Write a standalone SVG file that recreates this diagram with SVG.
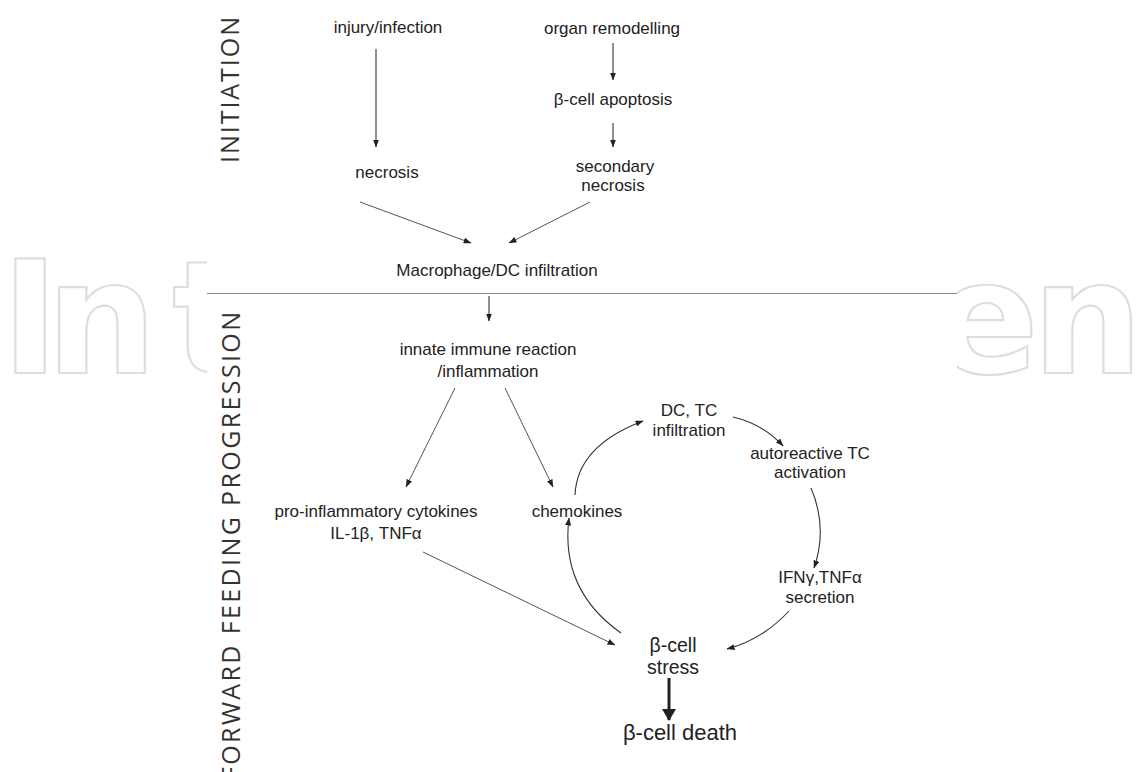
<svg xmlns="http://www.w3.org/2000/svg" width="1140" height="772" viewBox="0 0 1140 772">
<defs>
<style>
.lbl{font-family:"Liberation Sans",Arial,sans-serif;font-size:17px;fill:#222;text-anchor:middle}
.big{font-family:"Liberation Sans",Arial,sans-serif;font-size:19.5px;fill:#222;text-anchor:middle}
.bigger{font-family:"Liberation Sans",Arial,sans-serif;font-size:22px;fill:#222;text-anchor:middle}
.side{font-family:"Open Sans","DejaVu Sans",sans-serif;font-size:25px;fill:#333}
.wm{font-family:"DejaVu Sans",sans-serif;font-weight:bold;font-size:156px;fill:none;stroke:#dedede;stroke-width:2.2}
.c{fill:none;stroke:#333;stroke-width:1.1;marker-end:url(#ah)}
.cl{fill:none;stroke:#555;stroke-width:1;marker-end:url(#ah)}
</style>
<marker id="ah" viewBox="0 0 8 6" refX="7.5" refY="3" markerWidth="8" markerHeight="6" markerUnits="userSpaceOnUse" orient="auto">
<path d="M0,0 L8,3 L0,6 Z" fill="#222"/>
</marker>
<marker id="bigah" viewBox="0 0 12 14" refX="11" refY="7" markerWidth="12" markerHeight="14" markerUnits="userSpaceOnUse" orient="auto">
<path d="M0,0 L12,7 L0,14 Z" fill="#222"/>
</marker>
<clipPath id="wmL"><rect x="0" y="0" width="207" height="772"/></clipPath>
<clipPath id="wmR"><rect x="957" y="0" width="183" height="772"/></clipPath>
</defs>
<rect width="1140" height="772" fill="#fff"/>
<g id="watermark">
<text class="wm" clip-path="url(#wmL)" x="1 46 172" y="373">Int</text>
<text class="wm" clip-path="url(#wmR)" x="933 1032" y="373">en</text>
</g>

<g id="side-labels">
<text class="side" transform="translate(239,163) rotate(-90)" textLength="146" lengthAdjust="spacing">INITIATION</text>
<text class="side" transform="translate(240,780) rotate(-90)" textLength="468" lengthAdjust="spacing">FORWARD FEEDING PROGRESSION</text>
</g>

<line id="separator" x1="207" y1="293.5" x2="957" y2="293.5" stroke="#8a8a8a" stroke-width="1.2"/>

<g id="n-injury"><text class="lbl" x="388" y="33">injury/infection</text></g>
<g id="n-organ"><text class="lbl" x="612" y="34">organ remodelling</text></g>
<g id="n-apoptosis"><text class="lbl" x="613" y="105">β-cell apoptosis</text></g>
<g id="n-necrosis"><text class="lbl" x="387" y="178">necrosis</text></g>
<g id="n-secnecrosis"><text class="lbl" x="615" y="172">secondary</text><text class="lbl" x="613" y="191">necrosis</text></g>
<g id="n-macrophage"><text class="lbl" x="497" y="276">Macrophage/DC infiltration</text></g>
<g id="n-innate"><text class="lbl" x="488" y="355">innate immune reaction</text><text class="lbl" x="488" y="377">/inflammation</text></g>
<g id="n-cytokines"><text class="lbl" x="376" y="517">pro-inflammatory cytokines</text><text class="lbl" x="376" y="539">IL-1β, TNFα</text></g>
<g id="n-chemokines"><text class="lbl" x="577" y="517">chemokines</text></g>
<g id="n-dctc"><text class="lbl" x="689" y="416">DC, TC</text><text class="lbl" x="689" y="436">infiltration</text></g>
<g id="n-autoreactive"><text class="lbl" x="810" y="459">autoreactive TC</text><text class="lbl" x="810" y="478">activation</text></g>
<g id="n-ifn"><text class="lbl" x="820" y="583">IFNγ,TNFα</text><text class="lbl" x="820" y="603">secretion</text></g>
<g id="n-stress"><text class="big" x="673" y="652">β-cell</text><text class="big" x="673" y="674">stress</text></g>
<g id="n-death"><text class="bigger" x="680" y="740">β-cell death</text></g>

<g id="connectors">
<line class="c" x1="376" y1="49" x2="376" y2="147"/>
<line class="c" x1="613" y1="43" x2="613" y2="80"/>
<line class="c" x1="613" y1="123" x2="613" y2="147"/>
<line class="cl" x1="360" y1="202" x2="471" y2="243"/>
<line class="cl" x1="590" y1="202" x2="509" y2="243"/>
<line class="c" x1="489" y1="296" x2="489" y2="321"/>
<line class="cl" x1="455" y1="388" x2="406" y2="487"/>
<line class="cl" x1="505" y1="388" x2="553" y2="487"/>
<line class="cl" x1="423" y1="552" x2="615" y2="645"/>
<path class="c" d="M575,495 Q577,446 643,421"/>
<path class="c" d="M733,417 Q763,424 783,446"/>
<path class="c" d="M811,488 Q828,528 814,568"/>
<path class="c" d="M789,611 Q762,640 727,649"/>
<path class="c" d="M621,633 Q560,590 569,518"/>
<line x1="669" y1="678" x2="669" y2="720" stroke="#222" stroke-width="3" marker-end="url(#bigah)"/>
</g>
</svg>
